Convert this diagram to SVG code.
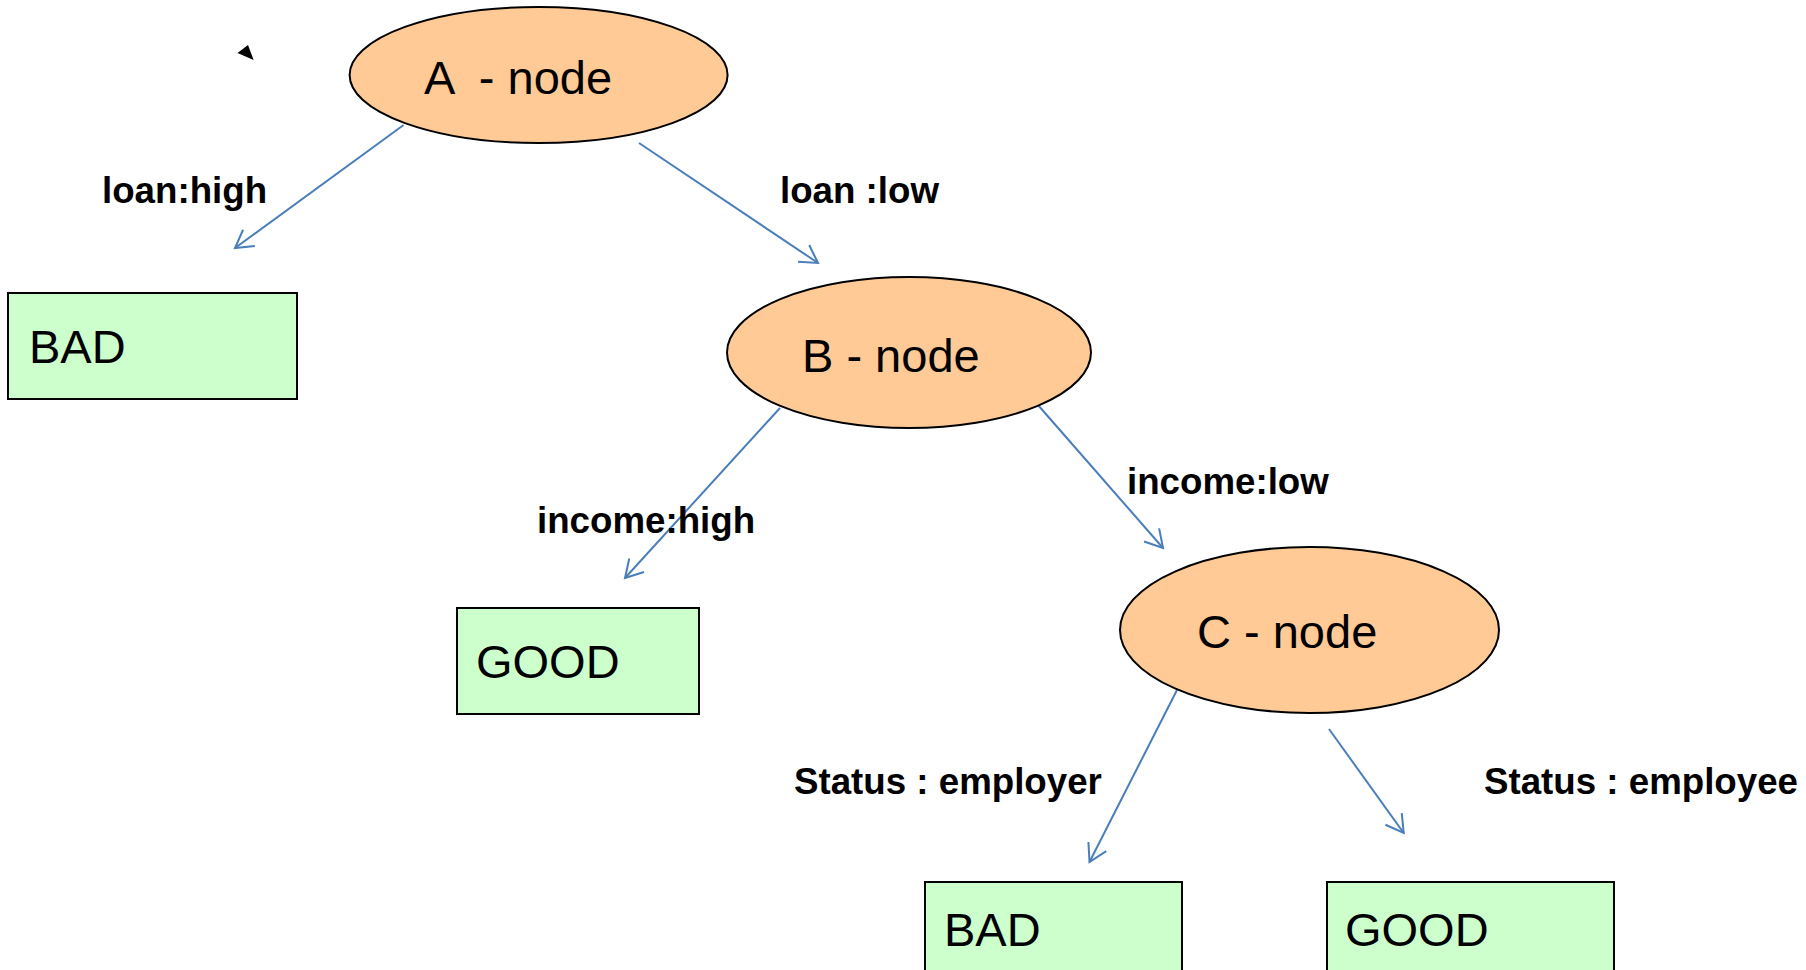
<svg xmlns="http://www.w3.org/2000/svg" width="1806" height="970" viewBox="0 0 1806 970">
  <style>
    .split { fill: #FFCA96; stroke: #000; stroke-width: 2; }
    .leaf { fill: #CCFFCC; stroke: #000; stroke-width: 2; }
    .nodetext { font-family: "Liberation Sans", Arial, sans-serif; font-size: 47px; fill: #000; }
    .edgetext { font-family: "Liberation Sans", Arial, sans-serif; font-size: 36.7px; font-weight: bold; fill: #000; }
    .edge { stroke: #4A7EBB; stroke-width: 2; fill: none; marker-end: url(#open); }
  </style>
  <defs>
    <marker id="open" markerUnits="userSpaceOnUse" markerWidth="26" markerHeight="26" refX="20" refY="12" orient="auto" overflow="visible">
      <path d="M2.7,2 L20,12 L2.7,22" fill="none" stroke="#4A7EBB" stroke-width="2"/>
    </marker>
  </defs>
  <rect width="1806" height="970" fill="#fff"/>

  <!-- stray pointer mark -->
  <polygon points="237.5,53 248,45 253.6,60" fill="#000"/>

  <g id="connectors">
    <line class="edge" x1="403.6" y1="125" x2="235" y2="248"/>
    <line class="edge" x1="639" y1="143" x2="818" y2="263"/>
    <line class="edge" x1="780" y1="408" x2="625" y2="578"/>
    <line class="edge" x1="1038" y1="405" x2="1163" y2="548"/>
    <line class="edge" x1="1177" y1="690" x2="1089.5" y2="862"/>
    <line class="edge" x1="1329" y1="729" x2="1403.7" y2="833"/>
  </g>

  <g id="edge-labels">
    <text class="edgetext" x="102" y="203">loan:high</text>
    <text class="edgetext" x="780" y="203">loan :low</text>
    <text class="edgetext" x="537" y="533">income:high</text>
    <text class="edgetext" x="1127" y="494">income:low</text>
    <text class="edgetext" x="794" y="794">Status : employer</text>
    <text class="edgetext" x="1484" y="794">Status : employee</text>
  </g>

  <g id="node-a">
    <ellipse class="split" cx="538.6" cy="75" rx="189" ry="68"/>
    <text class="nodetext" x="424" y="94" xml:space="preserve">A  - node</text>
  </g>
  <g id="leaf-bad-1">
    <rect class="leaf" x="8" y="293" width="289" height="106"/>
    <text class="nodetext" x="29" y="363">BAD</text>
  </g>
  <g id="node-b">
    <ellipse class="split" cx="909" cy="352.5" rx="182" ry="75.5"/>
    <text class="nodetext" x="802" y="372">B - node</text>
  </g>
  <g id="leaf-good-1">
    <rect class="leaf" x="457" y="608" width="242" height="106"/>
    <text class="nodetext" x="476" y="678">GOOD</text>
  </g>
  <g id="node-c">
    <ellipse class="split" cx="1309.5" cy="630" rx="189.5" ry="83"/>
    <text class="nodetext" x="1197" y="648">C - node</text>
  </g>
  <g id="leaf-bad-2">
    <rect class="leaf" x="925" y="882" width="257" height="110"/>
    <text class="nodetext" x="944" y="946">BAD</text>
  </g>
  <g id="leaf-good-2">
    <rect class="leaf" x="1327" y="882" width="287" height="110"/>
    <text class="nodetext" x="1345" y="946">GOOD</text>
  </g>
</svg>
